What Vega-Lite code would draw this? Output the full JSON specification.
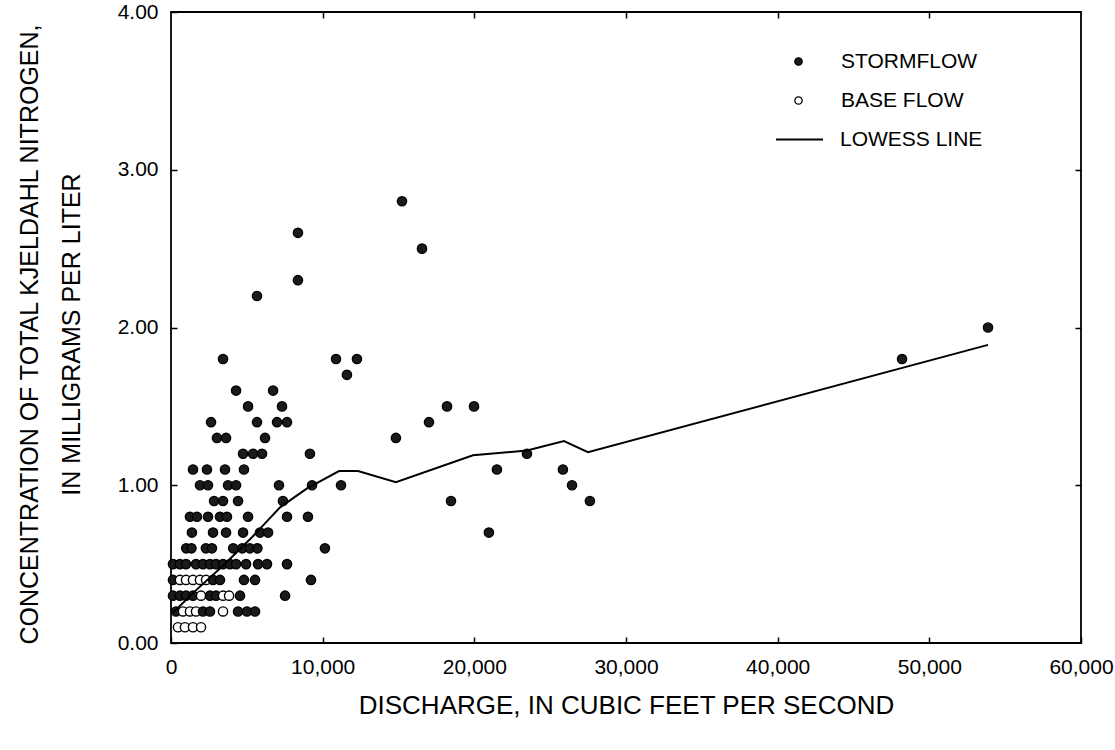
{
  "$schema": "https://vega.github.io/schema/vega-lite/v6.json",
  "width": 910,
  "height": 631,
  "autosize": {"type": "none"},
  "padding": {"left": 171, "top": 12, "right": 34, "bottom": 107},
  "background": "white",
  "config": {
    "font": "Liberation Sans",
    "view": {"stroke": "black", "strokeWidth": 1.8},
    "axis": {
      "labelColor": "black",
      "titleColor": "black",
      "tickColor": "black",
      "tickWidth": 1.5,
      "grid": false,
      "domain": false,
      "labelFont": "Liberation Sans",
      "titleFont": "Liberation Sans",
      "labelFontSize": 21,
      "titleFontSize": 26,
      "titleFontWeight": "normal"
    },
    "legend": {"labelFont": "Liberation Sans", "labelFontSize": 21, "labelColor": "black"}
  },
  "datasets": {
    "pts": [
      {"q": 5670, "tkn": 2.2, "flow": "STORMFLOW"},
      {"q": 8370, "tkn": 2.6, "flow": "STORMFLOW"},
      {"q": 8370, "tkn": 2.3, "flow": "STORMFLOW"},
      {"q": 3430, "tkn": 1.8, "flow": "STORMFLOW"},
      {"q": 10880, "tkn": 1.8, "flow": "STORMFLOW"},
      {"q": 12260, "tkn": 1.8, "flow": "STORMFLOW"},
      {"q": 11600, "tkn": 1.7, "flow": "STORMFLOW"},
      {"q": 15230, "tkn": 2.8, "flow": "STORMFLOW"},
      {"q": 16550, "tkn": 2.5, "flow": "STORMFLOW"},
      {"q": 17010, "tkn": 1.4, "flow": "STORMFLOW"},
      {"q": 14830, "tkn": 1.3, "flow": "STORMFLOW"},
      {"q": 18200, "tkn": 1.5, "flow": "STORMFLOW"},
      {"q": 19980, "tkn": 1.5, "flow": "STORMFLOW"},
      {"q": 21490, "tkn": 1.1, "flow": "STORMFLOW"},
      {"q": 18460, "tkn": 0.9, "flow": "STORMFLOW"},
      {"q": 20960, "tkn": 0.7, "flow": "STORMFLOW"},
      {"q": 23470, "tkn": 1.2, "flow": "STORMFLOW"},
      {"q": 25840, "tkn": 1.1, "flow": "STORMFLOW"},
      {"q": 26440, "tkn": 1.0, "flow": "STORMFLOW"},
      {"q": 27620, "tkn": 0.9, "flow": "STORMFLOW"},
      {"q": 48200, "tkn": 1.8, "flow": "STORMFLOW"},
      {"q": 53870, "tkn": 2.0, "flow": "STORMFLOW"},
      {"q": 4290, "tkn": 1.6, "flow": "STORMFLOW"},
      {"q": 6730, "tkn": 1.6, "flow": "STORMFLOW"},
      {"q": 5080, "tkn": 1.5, "flow": "STORMFLOW"},
      {"q": 7320, "tkn": 1.5, "flow": "STORMFLOW"},
      {"q": 2640, "tkn": 1.4, "flow": "STORMFLOW"},
      {"q": 5670, "tkn": 1.4, "flow": "STORMFLOW"},
      {"q": 6990, "tkn": 1.4, "flow": "STORMFLOW"},
      {"q": 7650, "tkn": 1.4, "flow": "STORMFLOW"},
      {"q": 3030, "tkn": 1.3, "flow": "STORMFLOW"},
      {"q": 3630, "tkn": 1.3, "flow": "STORMFLOW"},
      {"q": 6200, "tkn": 1.3, "flow": "STORMFLOW"},
      {"q": 4750, "tkn": 1.2, "flow": "STORMFLOW"},
      {"q": 5410, "tkn": 1.2, "flow": "STORMFLOW"},
      {"q": 6000, "tkn": 1.2, "flow": "STORMFLOW"},
      {"q": 9160, "tkn": 1.2, "flow": "STORMFLOW"},
      {"q": 1450, "tkn": 1.1, "flow": "STORMFLOW"},
      {"q": 2370, "tkn": 1.1, "flow": "STORMFLOW"},
      {"q": 3560, "tkn": 1.1, "flow": "STORMFLOW"},
      {"q": 4810, "tkn": 1.1, "flow": "STORMFLOW"},
      {"q": 1910, "tkn": 1.0, "flow": "STORMFLOW"},
      {"q": 2440, "tkn": 1.0, "flow": "STORMFLOW"},
      {"q": 3760, "tkn": 1.0, "flow": "STORMFLOW"},
      {"q": 4290, "tkn": 1.0, "flow": "STORMFLOW"},
      {"q": 7120, "tkn": 1.0, "flow": "STORMFLOW"},
      {"q": 9300, "tkn": 1.0, "flow": "STORMFLOW"},
      {"q": 11210, "tkn": 1.0, "flow": "STORMFLOW"},
      {"q": 2840, "tkn": 0.9, "flow": "STORMFLOW"},
      {"q": 3430, "tkn": 0.9, "flow": "STORMFLOW"},
      {"q": 4420, "tkn": 0.9, "flow": "STORMFLOW"},
      {"q": 7380, "tkn": 0.9, "flow": "STORMFLOW"},
      {"q": 1250, "tkn": 0.8, "flow": "STORMFLOW"},
      {"q": 1710, "tkn": 0.8, "flow": "STORMFLOW"},
      {"q": 2440, "tkn": 0.8, "flow": "STORMFLOW"},
      {"q": 3230, "tkn": 0.8, "flow": "STORMFLOW"},
      {"q": 3690, "tkn": 0.8, "flow": "STORMFLOW"},
      {"q": 5080, "tkn": 0.8, "flow": "STORMFLOW"},
      {"q": 7650, "tkn": 0.8, "flow": "STORMFLOW"},
      {"q": 9030, "tkn": 0.8, "flow": "STORMFLOW"},
      {"q": 1380, "tkn": 0.7, "flow": "STORMFLOW"},
      {"q": 2770, "tkn": 0.7, "flow": "STORMFLOW"},
      {"q": 3630, "tkn": 0.7, "flow": "STORMFLOW"},
      {"q": 4750, "tkn": 0.7, "flow": "STORMFLOW"},
      {"q": 5870, "tkn": 0.7, "flow": "STORMFLOW"},
      {"q": 6400, "tkn": 0.7, "flow": "STORMFLOW"},
      {"q": 1000, "tkn": 0.6, "flow": "STORMFLOW"},
      {"q": 1350, "tkn": 0.6, "flow": "STORMFLOW"},
      {"q": 2300, "tkn": 0.6, "flow": "STORMFLOW"},
      {"q": 2700, "tkn": 0.6, "flow": "STORMFLOW"},
      {"q": 4100, "tkn": 0.6, "flow": "STORMFLOW"},
      {"q": 4700, "tkn": 0.6, "flow": "STORMFLOW"},
      {"q": 5200, "tkn": 0.6, "flow": "STORMFLOW"},
      {"q": 5700, "tkn": 0.6, "flow": "STORMFLOW"},
      {"q": 10150, "tkn": 0.6, "flow": "STORMFLOW"},
      {"q": 130, "tkn": 0.5, "flow": "STORMFLOW"},
      {"q": 590, "tkn": 0.5, "flow": "STORMFLOW"},
      {"q": 990, "tkn": 0.5, "flow": "STORMFLOW"},
      {"q": 1650, "tkn": 0.5, "flow": "STORMFLOW"},
      {"q": 2110, "tkn": 0.5, "flow": "STORMFLOW"},
      {"q": 2570, "tkn": 0.5, "flow": "STORMFLOW"},
      {"q": 2970, "tkn": 0.5, "flow": "STORMFLOW"},
      {"q": 3430, "tkn": 0.5, "flow": "STORMFLOW"},
      {"q": 3890, "tkn": 0.5, "flow": "STORMFLOW"},
      {"q": 4290, "tkn": 0.5, "flow": "STORMFLOW"},
      {"q": 4950, "tkn": 0.5, "flow": "STORMFLOW"},
      {"q": 5740, "tkn": 0.5, "flow": "STORMFLOW"},
      {"q": 6330, "tkn": 0.5, "flow": "STORMFLOW"},
      {"q": 7650, "tkn": 0.5, "flow": "STORMFLOW"},
      {"q": 130, "tkn": 0.4, "flow": "STORMFLOW"},
      {"q": 590, "tkn": 0.4, "flow": "BASE FLOW"},
      {"q": 990, "tkn": 0.4, "flow": "BASE FLOW"},
      {"q": 1450, "tkn": 0.4, "flow": "BASE FLOW"},
      {"q": 1910, "tkn": 0.4, "flow": "BASE FLOW"},
      {"q": 2310, "tkn": 0.4, "flow": "BASE FLOW"},
      {"q": 2770, "tkn": 0.4, "flow": "STORMFLOW"},
      {"q": 3230, "tkn": 0.4, "flow": "STORMFLOW"},
      {"q": 4810, "tkn": 0.4, "flow": "STORMFLOW"},
      {"q": 5540, "tkn": 0.4, "flow": "STORMFLOW"},
      {"q": 9230, "tkn": 0.4, "flow": "STORMFLOW"},
      {"q": 130, "tkn": 0.3, "flow": "STORMFLOW"},
      {"q": 590, "tkn": 0.3, "flow": "STORMFLOW"},
      {"q": 990, "tkn": 0.3, "flow": "STORMFLOW"},
      {"q": 1450, "tkn": 0.3, "flow": "STORMFLOW"},
      {"q": 1980, "tkn": 0.3, "flow": "BASE FLOW"},
      {"q": 2570, "tkn": 0.3, "flow": "STORMFLOW"},
      {"q": 2970, "tkn": 0.3, "flow": "STORMFLOW"},
      {"q": 3430, "tkn": 0.3, "flow": "BASE FLOW"},
      {"q": 3830, "tkn": 0.3, "flow": "BASE FLOW"},
      {"q": 4550, "tkn": 0.3, "flow": "STORMFLOW"},
      {"q": 7520, "tkn": 0.3, "flow": "STORMFLOW"},
      {"q": 330, "tkn": 0.2, "flow": "STORMFLOW"},
      {"q": 790, "tkn": 0.2, "flow": "BASE FLOW"},
      {"q": 1250, "tkn": 0.2, "flow": "BASE FLOW"},
      {"q": 1650, "tkn": 0.2, "flow": "BASE FLOW"},
      {"q": 2110, "tkn": 0.2, "flow": "STORMFLOW"},
      {"q": 2570, "tkn": 0.2, "flow": "STORMFLOW"},
      {"q": 3430, "tkn": 0.2, "flow": "BASE FLOW"},
      {"q": 4420, "tkn": 0.2, "flow": "STORMFLOW"},
      {"q": 5010, "tkn": 0.2, "flow": "STORMFLOW"},
      {"q": 5540, "tkn": 0.2, "flow": "STORMFLOW"},
      {"q": 460, "tkn": 0.1, "flow": "BASE FLOW"},
      {"q": 920, "tkn": 0.1, "flow": "BASE FLOW"},
      {"q": 1450, "tkn": 0.1, "flow": "BASE FLOW"},
      {"q": 1980, "tkn": 0.1, "flow": "BASE FLOW"}
    ],
    "lowess": [
      {"q": 100, "tkn": 0.19, "series": "LOWESS LINE"},
      {"q": 1710, "tkn": 0.34, "series": "LOWESS LINE"},
      {"q": 3430, "tkn": 0.49, "series": "LOWESS LINE"},
      {"q": 5340, "tkn": 0.67, "series": "LOWESS LINE"},
      {"q": 7190, "tkn": 0.86, "series": "LOWESS LINE"},
      {"q": 8970, "tkn": 0.98, "series": "LOWESS LINE"},
      {"q": 11080, "tkn": 1.09, "series": "LOWESS LINE"},
      {"q": 12330, "tkn": 1.09, "series": "LOWESS LINE"},
      {"q": 14830, "tkn": 1.02, "series": "LOWESS LINE"},
      {"q": 19910, "tkn": 1.19, "series": "LOWESS LINE"},
      {"q": 23470, "tkn": 1.22, "series": "LOWESS LINE"},
      {"q": 25910, "tkn": 1.28, "series": "LOWESS LINE"},
      {"q": 27490, "tkn": 1.21, "series": "LOWESS LINE"},
      {"q": 53870, "tkn": 1.89, "series": "LOWESS LINE"}
    ]
  },
  "layer": [
    {
      "data": {"name": "pts"},
      "mark": {"type": "circle", "size": 85, "stroke": "black", "strokeWidth": 1.4, "opacity": 1},
      "encoding": {
        "x": {
          "field": "q", "type": "quantitative",
          "scale": {"domain": [0, 60000], "nice": false, "zero": true},
          "axis": {
            "orient": "bottom",
            "values": [0, 10000, 20000, 30000, 40000, 50000, 60000],
            "format": ",d",
            "tickSize": -6,
            "labelPadding": 19,
            "labelFlush": false,
            "title": "DISCHARGE, IN CUBIC FEET PER SECOND",
            "titlePadding": 15
          }
        },
        "y": {
          "field": "tkn", "type": "quantitative",
          "scale": {"domain": [0, 4], "nice": false},
          "axis": {
            "orient": "left",
            "values": [0, 1, 2, 3, 4],
            "format": ".2f",
            "tickSize": -6,
            "labelPadding": 19,
            "labelFlush": false,
            "title": ["CONCENTRATION OF TOTAL KJELDAHL NITROGEN,", "IN MILLIGRAMS PER LITER"],
            "titleFontSize": 25,
            "titleLineHeight": 42,
            "titlePadding": 33,
            "titleY": 322
          }
        },
        "fill": {
          "field": "flow", "type": "nominal",
          "scale": {"domain": ["STORMFLOW", "BASE FLOW"], "range": ["#1a1a1a", "white"]},
          "legend": {
            "title": null,
            "orient": "none",
            "legendX": 617,
            "legendY": 39,
            "padding": 0,
            "symbolType": "circle",
            "symbolSize": 55,
            "symbolStrokeColor": "black",
            "symbolStrokeWidth": 1.3,
            "rowPadding": 17,
            "labelOffset": 32
          }
        }
      }
    },
    {
      "data": {"name": "lowess"},
      "mark": {"type": "line", "strokeWidth": 2},
      "encoding": {
        "x": {
          "field": "q", "type": "quantitative",
          "axis": {
            "orient": "top",
            "values": [10000, 20000, 30000, 40000, 50000],
            "labels": false,
            "tickSize": -6,
            "title": null
          }
        },
        "y": {
          "field": "tkn", "type": "quantitative",
          "axis": {
            "orient": "right",
            "values": [1, 2, 3],
            "labels": false,
            "tickSize": -6,
            "title": null
          }
        },
        "stroke": {
          "field": "series", "type": "nominal",
          "scale": {"domain": ["LOWESS LINE"], "range": ["black"]},
          "legend": {
            "title": null,
            "orient": "none",
            "legendX": 604,
            "legendY": 103,
            "padding": 0,
            "symbolType": "stroke",
            "symbolSize": 2209,
            "symbolStrokeWidth": 2,
            "labelOffset": 16
          }
        }
      }
    }
  ],
  "resolve": {"axis": {"x": "independent", "y": "independent"}}
}
